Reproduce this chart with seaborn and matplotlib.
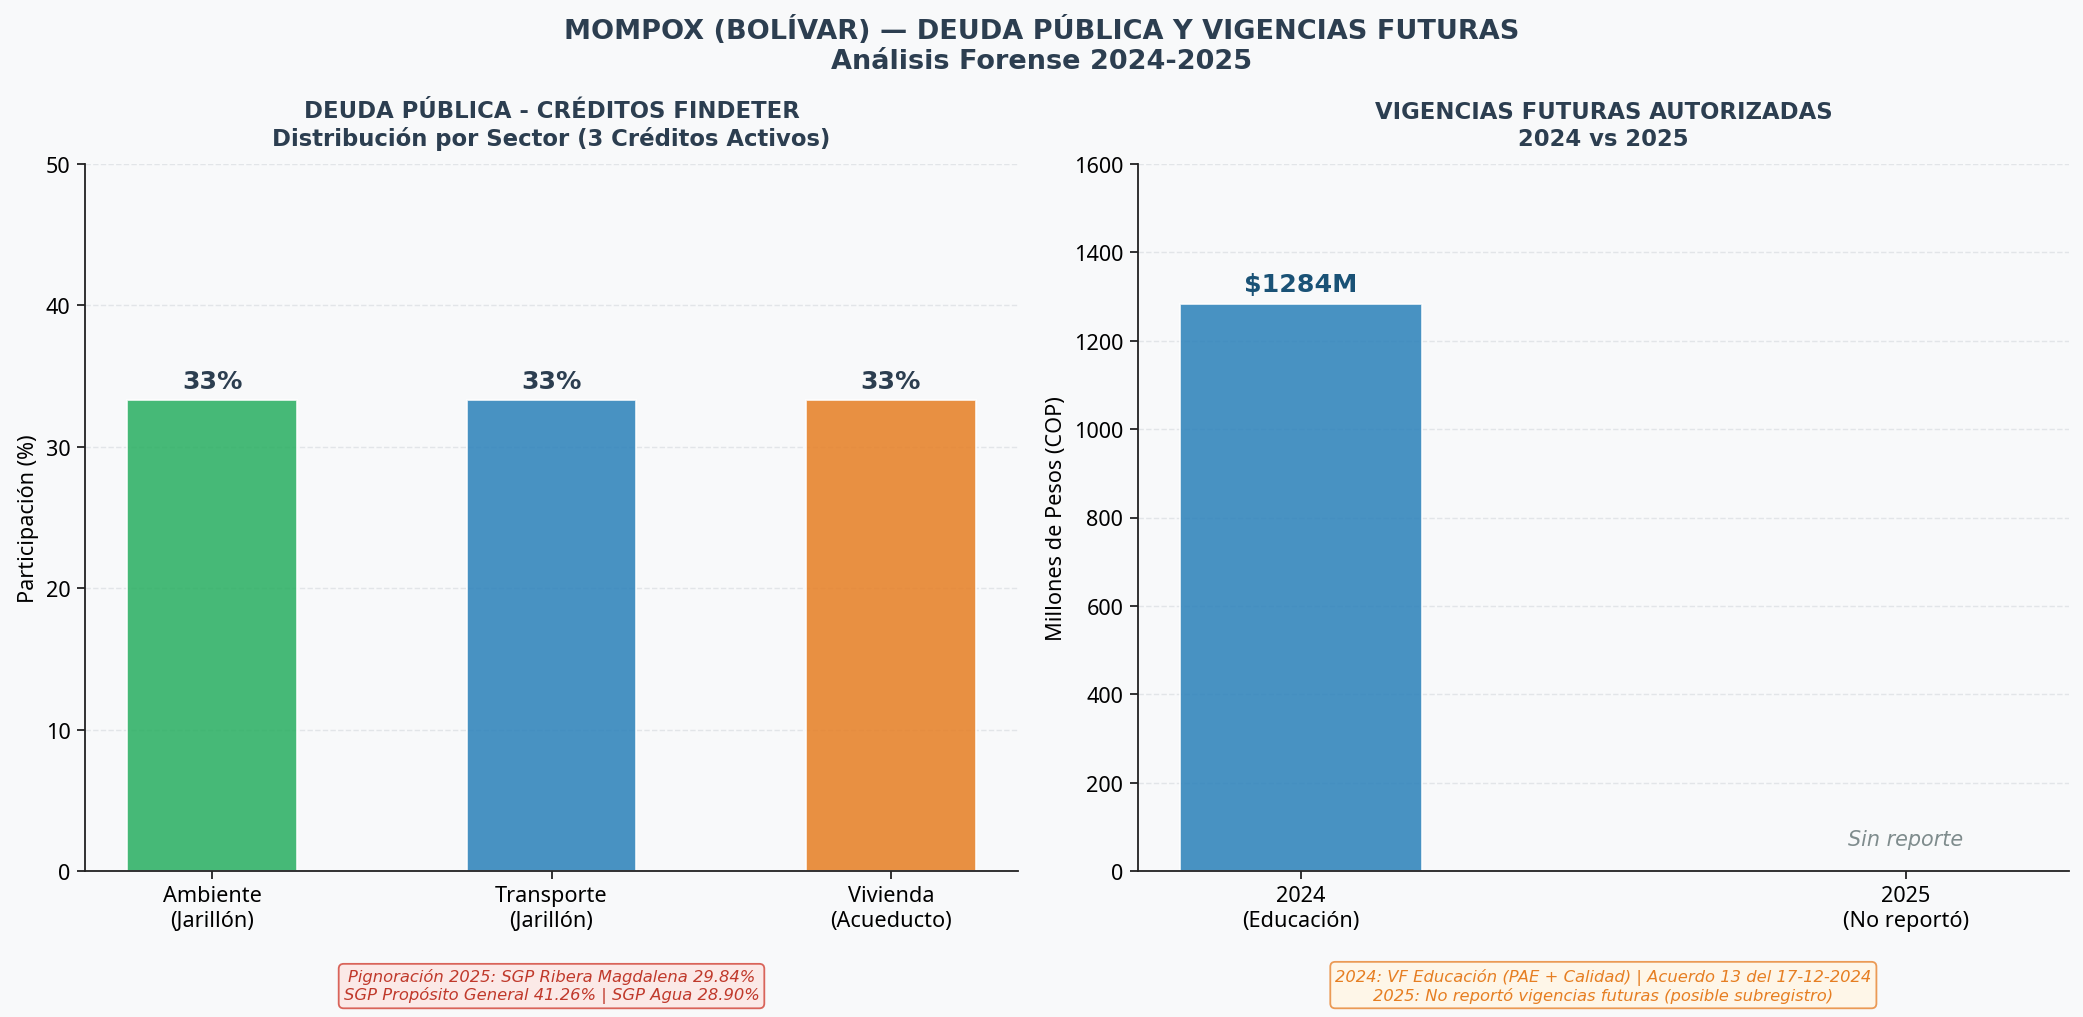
import matplotlib
matplotlib.use("Agg")
import matplotlib.pyplot as plt
import seaborn as sns
import pandas as pd

# ---- data ----
sectores = ["Ambiente\n(Jarillón)", "Transporte\n(Jarillón)", "Vivienda\n(Acueducto)"]
participacion = [33.33, 33.33, 33.33]
colores_sector = ["#27ae60", "#2980b9", "#e67e22"]

anios = ["2024\n(Educación)", "2025\n(No reportó)"]
vigencias = [1284, 0]
colores_vf = ["#2980b9", "#95a5a6"]

sns.set_style("white")
plt.rcParams["font.family"] = ["Noto Sans", "DejaVu Sans"]
plt.rcParams["text.color"] = "black"
plt.rcParams["axes.labelcolor"] = "black"
plt.rcParams["xtick.color"] = "black"
plt.rcParams["ytick.color"] = "black"

BG = "#f8f9fa"
DARK = "#2c3e50"
BOLD = "DejaVu Sans"

fig = plt.figure(figsize=(16.03, 7.83), dpi=130, facecolor=BG)
ax1 = fig.add_axes([0.0408, 0.1434, 0.4477, 0.6946])
ax2 = fig.add_axes([0.546, 0.1434, 0.4468, 0.6946])

df1 = pd.DataFrame({"sector": sectores, "pct": participacion})
sns.barplot(data=df1, x="sector", y="pct", hue="sector", palette=colores_sector,
            saturation=1, legend=False, width=0.5, alpha=0.85, edgecolor="white",
            linewidth=1, ax=ax1)
ax1.set_xlim(-0.375, 2.375)
ax1.set_ylim(0, 50)
ax1.set_yticks(range(0, 51, 10))
for i, v in enumerate(participacion):
    ax1.text(i, v + 0.45, f"{v:.0f}%", ha="center", va="bottom", fontsize=14,
             fontweight="bold", color=DARK, family=BOLD)
ax1.set_xlabel("")
ax1.set_ylabel("Participación (%)", fontsize=12)
ax1.set_title("DEUDA PÚBLICA - CRÉDITOS FINDETER\nDistribución por Sector (3 Créditos Activos)",
              fontsize=12.6, fontweight="bold", color=DARK, family=BOLD, pad=10.5)
ax1.text(0.5, -0.162, "Pignoración 2025: SGP Ribera Magdalena 29.84%\nSGP Propósito General 41.26% | SGP Agua 28.90%",
         transform=ax1.transAxes, ha="center", va="center", fontsize=9.1, style="italic",
         color="#c0392b", family=BOLD,
         bbox=dict(boxstyle="round,pad=0.3", facecolor="#fbe9e7", edgecolor="#d9645a", linewidth=1))

df2 = pd.DataFrame({"anio": anios, "vf": vigencias})
sns.barplot(data=df2, x="anio", y="vf", hue="anio", palette=colores_vf,
            saturation=1, legend=False, width=0.4, alpha=0.85, edgecolor="white",
            linewidth=1, ax=ax2)
ax2.set_xlim(-0.27, 1.27)
ax2.set_ylim(0, 1600)
ax2.set_yticks(range(0, 1601, 200))
ax2.text(0, vigencias[0] + 18, f"${vigencias[0]}M", ha="center", va="bottom", fontsize=14,
         fontweight="bold", color="#1a5276", family=BOLD)
ax2.text(1, 50, "Sin reporte", ha="center", va="bottom", fontsize=11.5, style="italic",
         color="#7f8c8d", family=BOLD)
ax2.set_xlabel("")
ax2.set_ylabel("Millones de Pesos (COP)", fontsize=12)
ax2.set_title("VIGENCIAS FUTURAS AUTORIZADAS\n2024 vs 2025",
              fontsize=12.6, fontweight="bold", color=DARK, family=BOLD, pad=10.5)
ax2.text(0.5, -0.162, "2024: VF Educación (PAE + Calidad) | Acuerdo 13 del 17-12-2024\n2025: No reportó vigencias futuras (posible subregistro)",
         transform=ax2.transAxes, ha="center", va="center", fontsize=9.1, style="italic",
         color="#e67e22", family=BOLD,
         bbox=dict(boxstyle="round,pad=0.3", facecolor="#fef6e8", edgecolor="#eb9a55", linewidth=1))

for ax in (ax1, ax2):
    ax.set_facecolor(BG)
    ax.grid(axis="y", linestyle="--", alpha=0.3, color="#b0b8c0")
    ax.set_axisbelow(True)
    for s in ("top", "right"):
        ax.spines[s].set_visible(False)
    for s in ("left", "bottom"):
        ax.spines[s].set_color("#222222")
        ax.spines[s].set_linewidth(1)
    ax.tick_params(axis="both", labelsize=12, length=4.5, width=1, color="#222222",
                   left=True, bottom=True)

fig.suptitle("MOMPOX (BOLÍVAR) — DEUDA PÚBLICA Y VIGENCIAS FUTURAS\nAnálisis Forense 2024-2025",
             fontsize=15, fontweight="bold", color=DARK, family=BOLD, y=0.984)

fig.savefig("out.png", dpi=130, facecolor=BG)
